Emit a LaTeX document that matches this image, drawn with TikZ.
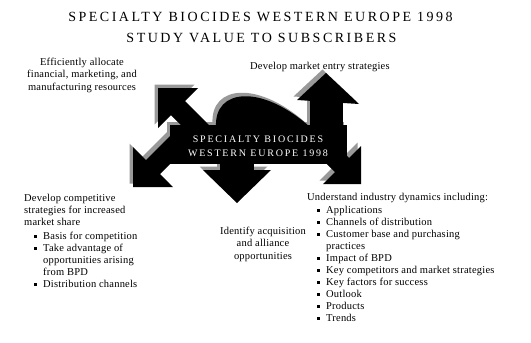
\documentclass[tikz,border=0pt]{standalone}
\usepackage{fontspec}
\setmainfont{Liberation Serif}
\newfontfamily\spacedfont[LetterSpace=18]{Liberation Serif}
\newfontfamily\bodyfont[LetterSpace=2]{Liberation Serif}
\newcommand\sqbul{\makebox[9pt][l]{\rule[1.6pt]{2.8pt}{2.8pt}}}
\newcommand\centralshape[1]{%
  \fill[#1] (170,125) rectangle (347,164);
  \fill[#1] (158,88) -- (198,88) -- (185,101) -- (212,128) -- (198,142) -- (171,115) -- (158,128) -- cycle;
  \fill[#1] (133,187) -- (133,147) -- (146,160) -- (181,125) -- (194,140) -- (160,174) -- (173,187) -- cycle;
  \fill[#1] (220,158) rectangle (254,172);
  \fill[#1] (203,170) -- (271,170) -- (237,203) -- cycle;
  \fill[#1] (310,99) rectangle (343,152);
  \fill[#1] (297,100) -- (326,73) -- (359,104) -- cycle;
  \fill[#1] (361,184) -- (361,146) -- (349,158) -- (329,138) -- (315,152) -- (335,172) -- (323,184) -- cycle;
  \fill[#1] (216,127) .. controls (214,88) and (262,84) .. (310,127) -- cycle;
}
\begin{document}
\begin{tikzpicture}[x=1pt,y=-1pt,
  bodytext/.style={inner sep=0pt,font=\bodyfont\fontsize{10.5}{12}\selectfont,text=black},
  titletext/.style={inner sep=0pt,font=\spacedfont\fontsize{14}{16}\selectfont,text=black},
  bartext/.style={inner sep=0pt,font=\spacedfont\fontsize{10}{12}\selectfont,text=white}]
\useasboundingbox (0,0) rectangle (531,343);
\fill[white] (0,0) rectangle (531,343);
% title
\node[titletext,anchor=base] (t1) at (260.5,21.7) {SPECIALTY BIOCIDES WESTERN EUROPE 1998};
\node[titletext,anchor=base] (t2) at (261.5,42.7) {STUDY VALUE TO SUBSCRIBERS};
% central shape with shadow
\centralshape{black!40,shift={(-3.5,-3.5)}}
\centralshape{black}
\node[bartext,anchor=base] (b1) at (258,142) {SPECIALTY BIOCIDES};
\node[bartext,anchor=base] (b2) at (258,156) {WESTERN EUROPE 1998};
% texts
\node[bodytext,anchor=north,align=center,font=\bodyfont\fontsize{10.5}{12.5}\selectfont] (eff) at (82,57.8)
  {Efficiently allocate\\financial, marketing, and\\manufacturing resources};
\node[bodytext,anchor=base west] (mkt) at (250,69) {Develop market entry strategies};
\node[bodytext,anchor=north,align=center,font=\bodyfont\fontsize{10.5}{12.5}\selectfont] (ident) at (263,226.8)
  {Identify acquisition\\and alliance\\opportunities};
\node[bodytext,anchor=north west,align=left] (comp) at (24,193.8)
  {Develop competitive\\strategies for increased\\market share\\[2pt]
   \hspace*{10pt}\sqbul Basis for competition\\
   \hspace*{10pt}\sqbul Take advantage of\\
   \hspace*{19pt}opportunities arising\\
   \hspace*{19pt}from BPD\\
   \hspace*{10pt}\sqbul Distribution channels};
\node[bodytext,anchor=north west,align=left] (ind) at (307,192.8)
  {Understand industry dynamics including:\\[1pt]
   \hspace*{10pt}\sqbul Applications\\
   \hspace*{10pt}\sqbul Channels of distribution\\
   \hspace*{10pt}\sqbul Customer base and purchasing\\
   \hspace*{19pt}practices\\
   \hspace*{10pt}\sqbul Impact of BPD\\
   \hspace*{10pt}\sqbul Key competitors and market strategies\\
   \hspace*{10pt}\sqbul Key factors for success\\
   \hspace*{10pt}\sqbul Outlook\\
   \hspace*{10pt}\sqbul Products\\
   \hspace*{10pt}\sqbul Trends};
\end{tikzpicture}
\end{document}
